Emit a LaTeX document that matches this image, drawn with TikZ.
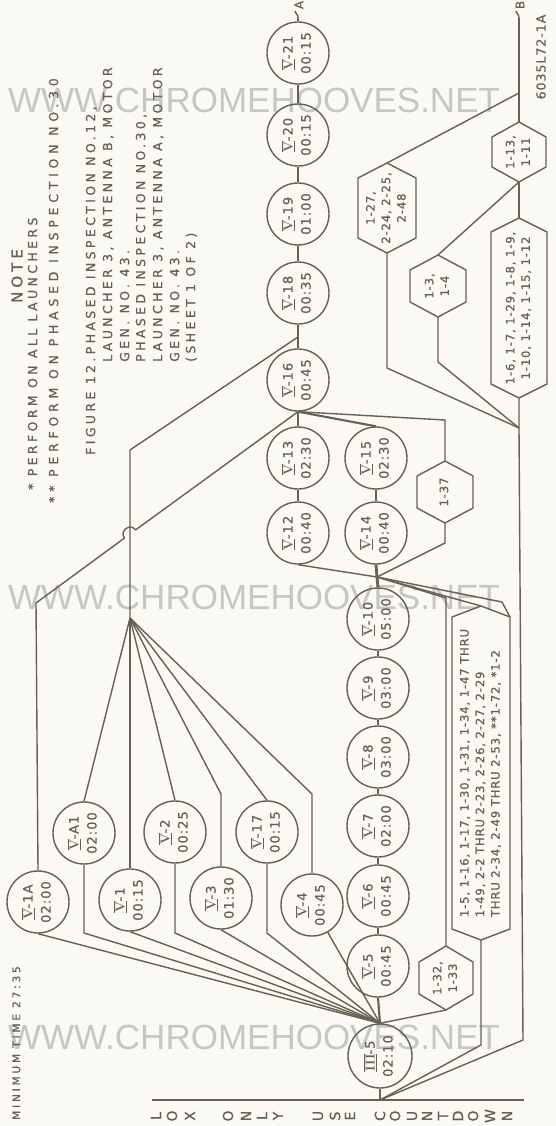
\documentclass[tikz,border=0pt]{standalone}
\usepackage{fontspec}
\usepackage{graphicx}
\newfontfamily\lett[LetterSpace=8,FakeBold=0.8]{DejaVu Sans}
\newfontfamily\lettw[LetterSpace=27,FakeBold=0.6]{DejaVu Sans}
\newfontfamily\lettx[LetterSpace=38,FakeBold=0.6]{DejaVu Sans}
\newfontfamily\wmfont{Liberation Sans}
\definecolor{ink}{RGB}{104,96,82}
\definecolor{paper}{RGB}{250,249,243}
\definecolor{wmgray}{RGB}{198,198,198}
\newcommand{\rn}[1]{$\overline{\underline{\mbox{\normalfont\bfseries #1}}}$}
\newcommand{\vt}[1]{\rotatebox{90}{\begin{tabular}{@{}c@{}}#1\end{tabular}}}
\newcommand{\vl}[1]{\rotatebox{90}{\begin{tabular}{@{}l@{}}#1\end{tabular}}}
\newcommand{\hexbox}[7]{%
  \coordinate (#1-t) at (#2,#3-#5);
  \coordinate (#1-b) at (#2,#3+#5);
  \coordinate (#1-ur) at (#2+#4,#3-#5+#6);
  \draw[ln] (#1-t) -- (#1-ur) -- (#2+#4,#3+#5-#6) -- (#1-b) -- (#2-#4,#3+#5-#6) -- (#2-#4,#3-#5+#6) -- cycle;
  \node[hexlbl] (#1) at (#2,#3) {#7};}
\tikzset{
 ln/.style={draw=ink, line width=1.4pt, line join=round},
 stem/.style={draw=ink, line width=2.9pt},
 midstem/.style={draw=ink, line width=2.1pt},
 task/.style={circle, draw=ink, line width=1.4pt, minimum size=62pt, inner sep=0pt, text=ink, font=\lett\fontsize{13}{18}\selectfont},
 hexlbl/.style={inner sep=0pt, text=ink, font=\lett\fontsize{11.5}{15.5}\selectfont},
 note/.style={rotate=90, anchor=mid west, inner sep=0pt, text=ink, font=\lettw\fontsize{12.5}{14}\selectfont},
 cdl/.style={rotate=90, inner sep=0pt, text=ink, font=\lett\fontsize{14}{14}\selectfont},
 wmark/.style={text=wmgray, font=\wmfont\fontsize{35}{38}\selectfont, inner sep=0pt},
}
\begin{document}
\begin{tikzpicture}[x=1pt,y=-1pt]
\fill[paper] (0,0) rectangle (556,1126);
\useasboundingbox (0,0) rectangle (556,1126);

% watermark
\node[wmark] (wm1) at (254,100) {WWW.CHROMEHOOVES.NET};
\node[wmark] (wm2) at (254,597) {WWW.CHROMEHOOVES.NET};
\node[wmark] (wm3) at (254,1037) {WWW.CHROMEHOOVES.NET};

% notes
\node[rotate=90, inner sep=0pt, text=ink, font=\lettw\fontsize{15}{16}\selectfont] (note) at (17,276) {NOTE};
\node[note] (n1) at (35,490) {* PERFORM ON ALL LAUNCHERS};
\node[note, font=\lettx\fontsize{12.5}{14}\selectfont] (n2) at (56,503) {** PERFORM ON PHASED INSPECTION NO.30};
\node[note] (n3) at (93,455) {FIGURE 12.PHASED INSPECTION NO.12,};
\node[note] (n4) at (110,362) {LAUNCHER 3, ANTENNA B, MOTOR};
\node[note] (n5) at (127,362) {GEN. NO. 43.};
\node[note] (n6) at (143,362) {PHASED INSPECTION NO.30,};
\node[note] (n7) at (160,362) {LAUNCHER 3, ANTENNA A, MOTOR};
\node[note] (n8) at (177,362) {GEN. NO. 43.};
\node[note] (n9) at (193,362) {(SHEET 1 OF 2)};
\node[note, font=\lettw\fontsize{10.5}{12}\selectfont] (mt) at (18,1120) {MINIMUM TIME 27:35};
\node[rotate=90, inner sep=0pt, text=ink, font=\lett\fontsize{12.5}{13}\selectfont] (dwg) at (541,57) {6035L72-1A};

% circles
\node[task] (v1a) at (38,902) {\vt{\rn{V}-1A\\02:00}};
\node[task] (va1) at (84,833) {\vt{\rn{V}-A1\\02:00}};
\node[task] (v1) at (130,900) {\vt{\rn{V}-1\\00:15}};
\node[task] (v2) at (175,832) {\vt{\rn{V}-2\\00:25}};
\node[task] (v3) at (221,898) {\vt{\rn{V}-3\\01:30}};
\node[task] (v17) at (267,832) {\vt{\rn{V}-17\\00:15}};
\node[task] (v4) at (312,905) {\vt{\rn{V}-4\\00:45}};
\node[task, minimum size=64pt] (iii5) at (380,1056) {\vt{\rn{III}-5\\02:10}};
\node[task] (v5) at (378,966) {\vt{\rn{V}-5\\00:45}};
\node[task] (v6) at (378,896) {\vt{\rn{V}-6\\00:45}};
\node[task] (v7) at (378,826) {\vt{\rn{V}-7\\02:00}};
\node[task] (v8) at (378,757) {\vt{\rn{V}-8\\03:00}};
\node[task] (v9) at (378,688) {\vt{\rn{V}-9\\03:00}};
\node[task] (v10) at (378,619) {\vt{\rn{V}-10\\05:00}};
\node[task] (v14) at (376,533) {\vt{\rn{V}-14\\00:40}};
\node[task] (v15) at (376,458) {\vt{\rn{V}-15\\02:30}};
\node[task] (v12) at (298,533) {\vt{\rn{V}-12\\00:40}};
\node[task] (v13) at (298,458) {\vt{\rn{V}-13\\02:30}};
\node[task] (v16) at (298,380) {\vt{\rn{V}-16\\00:45}};
\node[task] (v18) at (298,293) {\vt{\rn{V}-18\\00:35}};
\node[task] (v19) at (298,214) {\vt{\rn{V}-19\\01:00}};
\node[task] (v20) at (298,135) {\vt{\rn{V}-20\\00:15}};
\node[task] (v21) at (298,53) {\vt{\rn{V}-21\\00:15}};

% hexagons
\hexbox{h32}{446}{978}{27}{32}{16}{\vt{1-32,\\1-33}}
\hexbox{h37}{445}{492}{28}{31}{15}{\vt{1-37}}
\hexbox{h5}{481}{773}{29}{167}{11}{\vl{1-5, 1-16, 1-17, 1-30, 1-31, 1-34, 1-47 THRU\\1-49, 2-2 THRU 2-23, 2-26, 2-27, 2-29\\THRU 2-34, 2-49 THRU 2-53, **1-72, *1-2}}
\hexbox{h3}{438}{286}{28}{31}{15}{\vt{1-3,\\1-4}}
\hexbox{h27}{387}{208}{29}{45}{15}{\vt{1-27,\\2-24, 2-25,\\2-48}}
\hexbox{h13}{519}{152}{27}{30}{15}{\vt{1-13,\\1-11}}
\hexbox{h6}{519}{308}{28}{90}{14}{\vt{1-6, 1-7, 1-29, 1-8, 1-9,\\1-10, 1-14, 1-15, 1-12}}

% baseline and countdown letters
\coordinate (base) at (380,1100);
\coordinate (bl) at (152,1100);
\coordinate (br) at (524,1100);
\draw[ln] (bl) -- (br);
\foreach \ch/\xx [count=\i] in {L/156,O/172,X/190,O/228,N/246,L/262,Y/278,U/318,S/335,E/350,C/380,O/395,U/412,N/427,T/443,D/458,O/473,W/490,N/507}
  \node[cdl] (cd\i) at (\xx,1116) {\ch};

% lower fan from III-5
\draw[midstem] (iii5.south) -- (base);
\draw[midstem] (iii5.north) -- (v5.south);
\coordinate (lf) at (iii5.north);
\coordinate (ca1) at (84,933);
\coordinate (c2) at (175,933);
\coordinate (c17) at (267,933);
\draw[ln] (lf) -- (v1a.south);
\draw[ln] (lf) -- (ca1) -- (va1.south);
\draw[ln] (lf) -- (v1.south);
\draw[ln] (lf) -- (c2) -- (v2.south);
\draw[ln] (lf) -- (v3.south);
\draw[ln] (lf) -- (c17) -- (v17.south);
\draw[ln] (lf) -- (v4.-60);
\draw[ln] (lf) -- (h32-b);

% upper fan
\coordinate (uf) at (130,618);
\coordinate (c3u) at (221,794);
\coordinate (c4u) at (312,794);
\coordinate (k) at (130,450);
\coordinate (j18) at (298,337);
\draw[ln] (va1.north) -- (uf);
\draw[ln] (v1.north) -- (uf);
\draw[ln] (v2.north) -- (uf);
\draw[ln] (v3.north) -- (c3u) -- (uf);
\draw[ln] (v17.north) -- (uf);
\draw[ln] (v4.north) -- (c4u) -- (uf);
\draw[ln] (uf) -- (k) -- (j18);

% line from V-1A over the crossing to V-16
\coordinate (b1) at (36,603);
\coordinate (hp1) at (124.4,538.1);
\coordinate (hp2) at (135.6,529.9);
\draw[ln] (v1a.north) -- (b1) -- (hp1) .. controls (119.1,530.8) and (130.3,522.6) .. (hp2) -- (v16.south);

% spine stems
\foreach \a/\b in {v5/v6,v6/v7,v7/v8,v8/v9,v9/v10}
  \draw[stem] (\a.north) -- (\b.south);
\coordinate (m) at (377,577);
\draw[stem] (v10.north) -- (m);
\draw[stem] (m) -- (v14.south);
\draw[stem] (v14.north) -- (v15.south);
\coordinate (m5) at (502,602);
\draw[ln] (v12.south) -- (m) -- (m5) -- (h5-ur);
\draw[ln] (m) -- (h5-t);
\coordinate (m32) at (446,598);
\draw[ln] (m) -- (m32) -- (h32-t);
\coordinate (m37) at (445,543);
\draw[ln] (h37-b) -- (m37) -- (m);
\draw[ln] (v13.south) -- (v12.north);
\draw[ln] (v16.south) -- (v13.north);
\draw[midstem] (v16.south) -- (v15.north);
\coordinate (c37) at (445,420);
\draw[ln] (v16.south) -- (c37) -- (h37-t);
\draw[stem] (v16.north) -- (j18) -- (v18.south);
\draw[stem] (v18.north) -- (v19.south);
\draw[stem] (v19.north) -- (v20.south);
\draw[stem] (v20.north) -- (v21.south);
\coordinate (aend) at (298,18);
\coordinate (acurl) at (295,11);
\draw[stem] (v21.north) -- (aend);
\draw[ln] (aend) .. controls (298,13) and (295,15) .. (acurl);
\node[rotate=90, inner sep=0pt, text=ink, font=\lett\fontsize{12}{12}\selectfont] (alab) at (299,5) {A};

% right side
\coordinate (j1) at (519,93);
\coordinate (j2) at (519,428);
\coordinate (bend) at (519,18);
\coordinate (bcurl) at (516,11);
\coordinate (rb) at (523,1040);
\coordinate (c5b) at (481,1045);
\coordinate (c27) at (387,368);
\coordinate (c3) at (438,362);
\draw[ln] (bend) -- (j1) -- (h13-t);
\draw[ln] (bend) .. controls (519,13) and (516,15) .. (bcurl);
\node[rotate=90, inner sep=0pt, text=ink, font=\lett\fontsize{12}{12}\selectfont] (blab) at (520,5) {B};
\draw[ln] (h13-b) -- (h6-t);
\draw[ln] (h13-b) -- (h3-t);
\draw[ln] (h6-b) -- (j2) -- (rb) -- (base);
\draw[ln] (h27-t) -- (j1);
\draw[ln] (h27-b) -- (c27) -- (j2);
\draw[ln] (h3-b) -- (c3) -- (j2);
\draw[ln] (h5-b) -- (c5b) -- (base);
\end{tikzpicture}
\end{document}
